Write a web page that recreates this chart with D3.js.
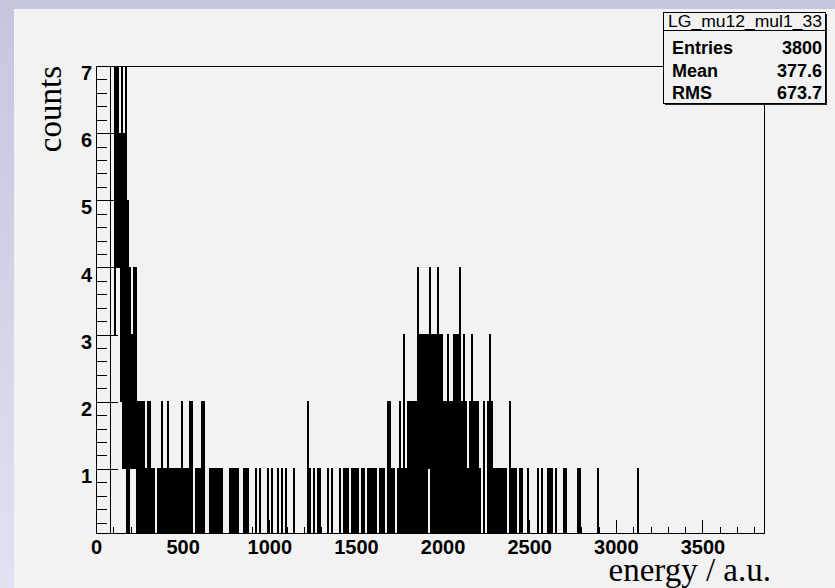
<!DOCTYPE html>
<html><head><meta charset="utf-8">
<script src="https://cdn.jsdelivr.net/npm/d3@7"></script>
<style>html,body{margin:0;padding:0;overflow:hidden;background:#cfd2e8}</style>
</head><body>
<svg id="chart" width="835" height="588"></svg>
<script>
// ---------------- data ----------------
const histTitle = "LG_mu12_mul1_33";
const statLabels = ["Entries", "Mean", "RMS"];
const statValues = ["3800", "377.6", "673.7"];
const xTitle = "energy / a.u.";
const yTitle = "counts";
const xRange = [0, 3855];
const yRange = [0, 7];
const xMajorTicks = [0, 500, 1000, 1500, 2000, 2500, 3000, 3500];
const yMajorTicks = [1, 2, 3, 4, 5, 6, 7];
// bin contents, one digit per bin (equal-width bins over xRange); 9 = off scale (clipped)
const countRows = [
  "0000000000000099993949462916190504131414",
  "0202020201020201010001010201010201010101",
  "0101020101010202000101010202000001010101",
  "0101010000000101010101000001010100000001",
  "0001000000010001000001000100010000000100",
  "0000000000020100010001010000000100010000",
  "0001000101010001010101000101000101010101",
  "0001010100020201010001020103010202020202",
  "0403030303031403030304030302020302020303",
  "0304020302010203020202010002000203020101",
  "0101010101000201010100010100000100000000",
  "0100010000010101000100000001010000000000",
  "0101000000000000000001000000000000000000",
  "0000000000000000000001000000000000000000",
  "0000000000000000000000000000000000000000",
  "0000000000000000000000000000000000000000",
  "0000000000000000000000000000"
];
// ---------------------------------------------------------------

const counts = countRows.join("").split("").map(Number);
const nBins = counts.length;
const binWidth = (xRange[1] - xRange[0]) / nBins;

const W = 835, H = 588;
const plot = {left: 96, right: 764, top: 66, bottom: 533};

const svg = d3.select("#chart");
const defs = svg.append("defs");

const bg = defs.append("linearGradient").attr("id", "bgGrad")
  .attr("x1", 0).attr("y1", 0).attr("x2", 0).attr("y2", 1);
bg.append("stop").attr("offset", "0%").attr("stop-color", "#c3c6de");
bg.append("stop").attr("offset", "100%").attr("stop-color", "#dfe2f1");

defs.append("clipPath").attr("id", "plotClip")
  .append("rect").attr("x", plot.left).attr("y", plot.top)
  .attr("width", plot.right - plot.left).attr("height", plot.bottom - plot.top);

svg.append("rect").attr("width", W).attr("height", H).attr("fill", "url(#bgGrad)");
svg.append("rect").attr("x", 14).attr("y", 9).attr("width", W - 14).attr("height", H - 9)
  .attr("fill", "#f2f2f2");

const x = d3.scaleLinear().domain(xRange).range([plot.left, plot.right]);
const y = d3.scaleLinear().domain(yRange).range([536, plot.top]);

// histogram outline
const pts = counts.map((c, i) => [xRange[0] + i * binWidth, c]);
pts.push([xRange[1], counts[nBins - 1]]);
const line = d3.line().x(d => x(d[0])).y(d => y(d[1])).curve(d3.curveStepAfter);
svg.append("g").attr("clip-path", "url(#plotClip)")
  .append("path")
  .attr("d", line(pts))
  .attr("transform", "translate(0.5,0)")
  .attr("fill", "none")
  .attr("stroke", "#000")
  .attr("stroke-width", 1)
  .attr("shape-rendering", "crispEdges");

// frame
svg.append("rect")
  .attr("x", plot.left).attr("y", plot.top)
  .attr("width", plot.right - plot.left).attr("height", plot.bottom - plot.top)
  .attr("fill", "none").attr("stroke", "#000").attr("stroke-width", 1)
  .attr("shape-rendering", "crispEdges");

// x axis
const xMinor = d3.range(0, xRange[1] + 1, 100).filter(v => xMajorTicks.indexOf(v) < 0);
const xAxisMinor = svg.append("g").attr("transform", `translate(0,${plot.bottom})`)
  .call(d3.axisBottom(x).tickValues(xMinor).tickSize(-6.5).tickFormat(""));
const xAxis = svg.append("g").attr("transform", `translate(0,${plot.bottom})`)
  .call(d3.axisBottom(x).tickValues(xMajorTicks).tickSize(-13).tickPadding(7).tickFormat(d3.format("d")));

// y axis
const yMinor = d3.range(0.2, 7, 0.2).filter(v => Math.abs(v - Math.round(v)) > 1e-6);
const yAxisMinor = svg.append("g").attr("transform", `translate(${plot.left},0)`)
  .call(d3.axisLeft(y).tickValues(yMinor).tickSize(-11).tickFormat(""));
const yAxis = svg.append("g").attr("transform", `translate(${plot.left},0)`)
  .call(d3.axisLeft(y).tickValues(yMajorTicks).tickSize(-22).tickPadding(4).tickFormat(d3.format("d")));

[xAxisMinor, xAxis, yAxisMinor, yAxis].forEach(a => {
  a.select(".domain").remove();
  a.selectAll("line").attr("stroke", "#000").attr("shape-rendering", "crispEdges");
  a.selectAll("text").attr("fill", "#000")
    .style("font-family", "'Liberation Sans', Arial, sans-serif")
    .style("font-weight", "bold").style("font-size", "20px");
});
yAxis.selectAll("text").attr("dy", "0.68em");

// axis titles
svg.append("text").attr("x", 771).attr("y", 581).attr("text-anchor", "end")
  .style("font-family", "'Liberation Serif', 'Times New Roman', serif")
  .style("font-size", "33px").attr("fill", "#000").text(xTitle);
svg.append("text").attr("transform", "translate(61,66) rotate(-90)").attr("text-anchor", "end")
  .style("font-family", "'Liberation Serif', 'Times New Roman', serif")
  .style("font-size", "33px").attr("fill", "#000").text(yTitle);

// stats box
const box = {x: 663, y: 12, w: 162, h: 91};
svg.append("rect").attr("x", box.x + 2).attr("y", box.y + 2).attr("width", box.w).attr("height", box.h)
  .attr("fill", "#222");
svg.append("rect").attr("x", box.x).attr("y", box.y).attr("width", box.w).attr("height", box.h)
  .attr("fill", "#f2f2f2").attr("stroke", "#000").attr("stroke-width", 1).attr("shape-rendering", "crispEdges");
svg.append("line").attr("x1", box.x).attr("x2", box.x + box.w).attr("y1", 30).attr("y2", 30)
  .attr("stroke", "#000").attr("shape-rendering", "crispEdges");
svg.append("text").attr("x", 668).attr("y", 27).attr("textLength", 154).attr("lengthAdjust", "spacingAndGlyphs")
  .style("font-family", "'Liberation Sans', Arial, sans-serif").style("font-size", "16px")
  .attr("fill", "#000").text(histTitle);
const rowBase = [54, 76.5, 99];
statLabels.forEach((lab, i) => {
  svg.append("text").attr("x", 672).attr("y", rowBase[i])
    .style("font-family", "'Liberation Sans', Arial, sans-serif").style("font-weight", "bold")
    .style("font-size", "18px").attr("fill", "#000").text(lab);
  svg.append("text").attr("x", 822).attr("y", rowBase[i]).attr("text-anchor", "end")
    .style("font-family", "'Liberation Sans', Arial, sans-serif").style("font-weight", "bold")
    .style("font-size", "18px").attr("fill", "#000").text(statValues[i]);
});
</script>
</body></html>
